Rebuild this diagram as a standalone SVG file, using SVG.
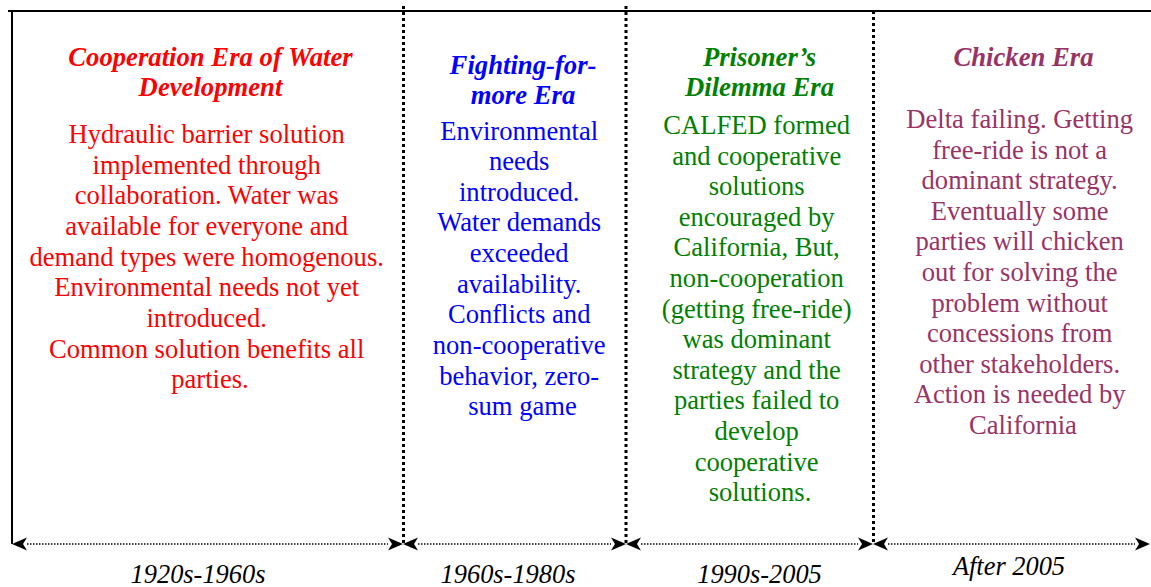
<svg xmlns="http://www.w3.org/2000/svg" width="1151" height="587" viewBox="0 0 1151 587">
<style>
  text { font-family: "Liberation Serif", "Times New Roman", serif; text-anchor: middle; }
  .title { font-size: 26.7px; font-weight: bold; font-style: italic; }
  .body { font-size: 26.6px; }
  .date { font-size: 26.4px; font-style: italic; fill: #000; }
  .red { fill: #FF0000; }
  .blue { fill: #0000FF; }
  .green { fill: #008000; }
  .plum { fill: #993366; }
  .frame { stroke: #000; stroke-width: 2; fill: none; }
  .divider { stroke: #000; stroke-width: 3; stroke-dasharray: 3 3; fill: none; }
  .span { stroke: #000; stroke-width: 1.4; stroke-dasharray: 1.5 1.5; fill: none; marker-start: url(#head); marker-end: url(#head); }
</style>
<defs>
  <marker id="head" viewBox="0 0 16 14" refX="1" refY="7" markerWidth="16" markerHeight="14" markerUnits="userSpaceOnUse" orient="auto-start-reverse">
    <path d="M16,7 L1,0.5 L5,7 L1,13.5 Z" fill="#000"/>
  </marker>
</defs>
<rect width="1151" height="587" fill="#fff"/>

<g id="frame">
  <line class="frame" x1="8" y1="11" x2="1151" y2="11"/>
  <line class="frame" x1="12" y1="11" x2="12" y2="544"/>
  <line class="divider" x1="403.5" y1="6" x2="403.5" y2="544"/>
  <line class="divider" x1="626" y1="6" x2="626" y2="544"/>
  <line class="divider" x1="873.5" y1="11" x2="873.5" y2="544"/>
</g>

<g id="connectors">
  <line class="span" x1="27" y1="544" x2="388" y2="544"/>
  <line class="span" x1="418" y1="544" x2="611" y2="544"/>
  <line class="span" x1="641" y1="544" x2="858" y2="544"/>
  <line class="span" x1="888" y1="544" x2="1135" y2="544"/>
</g>

<g id="era-cooperation">
  <text class="title red" x="210.5" y="66">Cooperation Era of Water</text>
  <text class="title red" x="210.5" y="96">Development</text>
  <text class="body red">
    <tspan x="210" y="143">Hydraulic barrier solution</tspan>
    <tspan x="210" y="174">implemented through</tspan>
    <tspan x="210" y="204">collaboration. Water was</tspan>
    <tspan x="210" y="235">available for everyone and</tspan>
    <tspan x="210" y="266">demand types were homogenous.</tspan>
    <tspan x="210" y="296">Environmental needs not yet</tspan>
    <tspan x="210" y="327">introduced.</tspan>
    <tspan x="210" y="358">Common solution benefits all</tspan>
    <tspan x="210" y="388">parties.</tspan>
  </text>
  <text class="date" x="198" y="583">1920s-1960s</text>
</g>

<g id="era-fighting">
  <text class="title blue" x="523" y="74">Fighting-for-</text>
  <text class="title blue" x="523" y="104">more Era</text>
  <text class="body blue">
    <tspan x="522.5" y="140">Environmental</tspan>
    <tspan x="522.5" y="170">needs</tspan>
    <tspan x="522.5" y="201">introduced.</tspan>
    <tspan x="522.5" y="231">Water demands</tspan>
    <tspan x="522.5" y="262">exceeded</tspan>
    <tspan x="522.5" y="293">availability.</tspan>
    <tspan x="522.5" y="323">Conflicts and</tspan>
    <tspan x="522.5" y="354">non-cooperative</tspan>
    <tspan x="522.5" y="385">behavior, zero-</tspan>
    <tspan x="522.5" y="415">sum game</tspan>
  </text>
  <text class="date" x="508" y="583">1960s-1980s</text>
</g>

<g id="era-prisoners">
  <text class="title green" x="759.5" y="66">Prisoner’s</text>
  <text class="title green" x="759.5" y="96">Dilemma Era</text>
  <text class="body green">
    <tspan x="760" y="134">CALFED formed</tspan>
    <tspan x="760" y="165">and cooperative</tspan>
    <tspan x="760" y="195">solutions</tspan>
    <tspan x="760" y="226">encouraged by</tspan>
    <tspan x="760" y="256">California, But,</tspan>
    <tspan x="760" y="287">non-cooperation</tspan>
    <tspan x="760" y="318">(getting free-ride)</tspan>
    <tspan x="760" y="348">was dominant</tspan>
    <tspan x="760" y="379">strategy and the</tspan>
    <tspan x="760" y="409">parties failed to</tspan>
    <tspan x="760" y="440">develop</tspan>
    <tspan x="760" y="471">cooperative</tspan>
    <tspan x="760" y="501">solutions.</tspan>
  </text>
  <text class="date" x="759.5" y="583">1990s-2005</text>
</g>

<g id="era-chicken">
  <text class="title plum" x="1023.5" y="66">Chicken Era</text>
  <text class="body plum">
    <tspan x="1023" y="128">Delta failing. Getting</tspan>
    <tspan x="1023" y="159">free-ride is not a</tspan>
    <tspan x="1023" y="189">dominant strategy.</tspan>
    <tspan x="1023" y="220">Eventually some</tspan>
    <tspan x="1023" y="250">parties will chicken</tspan>
    <tspan x="1023" y="281">out for solving the</tspan>
    <tspan x="1023" y="312">problem without</tspan>
    <tspan x="1023" y="342">concessions from</tspan>
    <tspan x="1023" y="373">other stakeholders.</tspan>
    <tspan x="1023" y="403">Action is needed by</tspan>
    <tspan x="1023" y="434">California</tspan>
  </text>
  <text class="date" x="1009" y="575">After 2005</text>
</g>
</svg>
